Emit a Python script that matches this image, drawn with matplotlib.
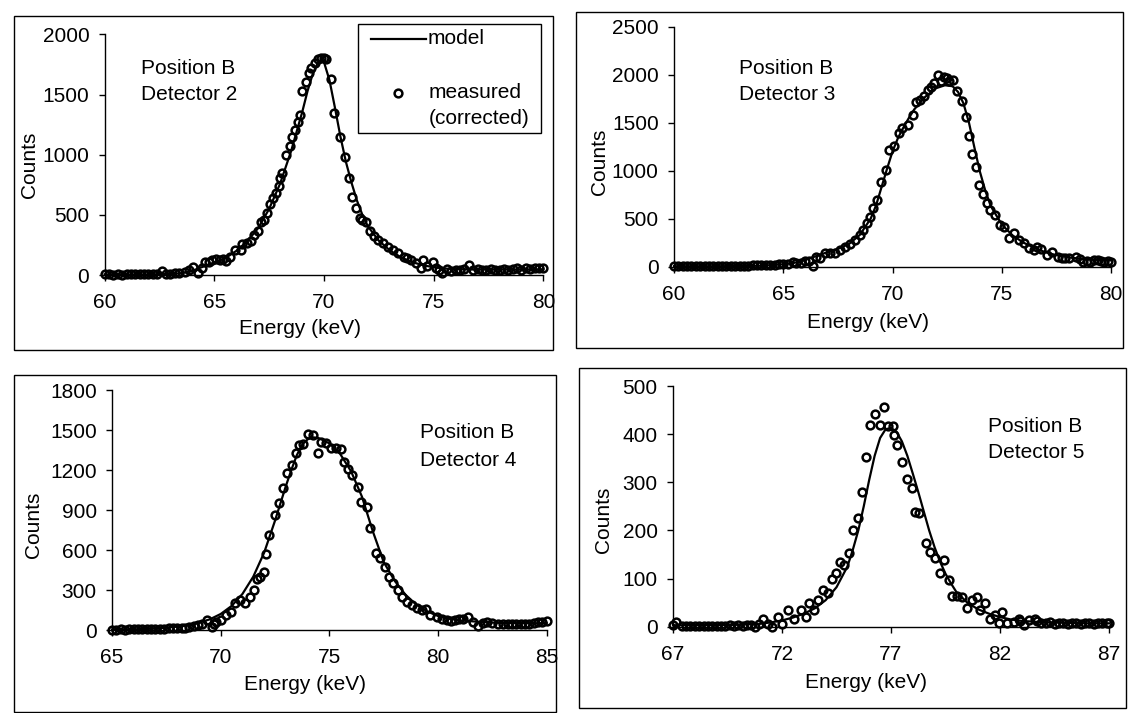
import matplotlib
matplotlib.use("Agg")
import matplotlib.pyplot as plt
from matplotlib.lines import Line2D
from matplotlib.patches import Rectangle

plt.rcParams['font.family'] = ['Liberation Sans', 'DejaVu Sans']

W, H = 1130, 713
FS = 15
MS = 5.6
MEW = 1.8

# ---------------- Data ----------------
# Detector 2
d2_meas_x = [60.0, 60.2, 60.4, 60.6, 60.8, 61.0, 61.2, 61.4, 61.6, 61.8, 62.0, 62.2, 62.4, 62.6, 62.8,
             63.0, 63.2, 63.4, 63.66, 63.85, 64.04, 64.27, 64.42, 64.58, 64.75, 64.88, 65.1, 65.25, 65.4,
             65.55, 65.7, 65.95, 66.2, 66.27, 66.5, 66.68, 66.83, 66.98, 67.15, 67.26, 67.41, 67.53,
             67.68, 67.79, 67.94, 67.98, 68.1, 68.28, 68.44, 68.56, 68.67, 68.82, 68.92, 69.01, 69.17,
             69.32, 69.42, 69.58, 69.73, 69.88, 70.0, 70.1, 70.3, 70.46, 70.72, 70.94, 71.14, 71.28,
             71.47, 71.63, 71.75, 71.93, 72.11, 72.28, 72.46, 72.68, 72.91, 73.14, 73.37, 73.63, 73.8,
             73.98, 74.2, 74.4, 74.5, 74.7, 74.95, 75.1, 75.25, 75.4, 75.6, 75.8, 76.0, 76.2, 76.4, 76.6,
             76.8, 77.0, 77.2, 77.4, 77.6, 77.8, 78.0, 78.2, 78.4, 78.6, 78.8, 79.0, 79.2, 79.4, 79.6,
             79.8, 80.0]
d2_meas_y = [8, 5, 3, 6, 4, 8, 5, 7, 6, 9, 7, 10, 8, 30, 10,
             12, 15, 18, 28, 40, 64, 20, 60, 111, 105, 125, 130, 128, 130,
             120, 147, 208, 208, 258, 269, 283, 333, 369, 444, 457, 513, 588,
             638, 685, 740, 804, 845, 998, 1073, 1145, 1206, 1270, 1330, 1530, 1608,
             1677, 1724, 1766, 1793, 1802, 1805, 1796, 1627, 1344, 1150, 984, 804, 651,
             554, 471, 457, 443, 369, 324, 291, 263, 236, 208, 180, 152, 140,
             125, 97, 61, 123, 75, 112, 61, 40, 20, 47, 35, 40, 45, 50, 80,
             45, 50, 40, 45, 50, 40, 45, 50, 45, 50, 55, 45, 55, 50, 60,
             55, 60]
d2_model_x = [60, 61, 62, 63, 63.5, 64, 64.5, 65, 65.5, 66, 66.5, 67, 67.5, 68, 68.5, 69, 69.25,
              69.5, 69.75, 69.9, 70.0, 70.25, 70.5, 70.75, 71, 71.25, 71.5, 71.75, 72, 72.5, 73,
              73.5, 74, 74.5, 75, 75.5, 76, 77, 78, 79, 80]
d2_model_y = [5, 5, 5, 8, 15, 35, 70, 105, 140, 200, 280, 390, 550, 760, 1030, 1350, 1530,
              1680, 1775, 1790, 1770, 1620, 1390, 1150, 940, 770, 620, 500, 405, 285, 205,
              148, 108, 82, 64, 54, 48, 45, 45, 46, 48]

# Detector 3
d3_meas_x = [60.0, 60.2, 60.4, 60.6, 60.8, 61.0, 61.2, 61.4, 61.6, 61.8, 62.0, 62.2, 62.4, 62.6, 62.8,
             63.0, 63.2, 63.4, 63.6, 63.8, 64.0, 64.2, 64.4, 64.6, 64.8, 65.0, 65.2, 65.44, 65.6, 65.8,
             66.0, 66.2, 66.35, 66.5, 66.68, 66.91, 67.14, 67.37, 67.6, 67.83, 68.05, 68.28, 68.51,
             68.64, 68.82, 68.97, 69.13, 69.3, 69.47, 69.7, 69.85, 70.08, 70.31, 70.43, 70.69, 70.92,
             71.07, 71.25, 71.45, 71.61, 71.76, 71.91, 72.06, 72.2, 72.35, 72.5, 72.6, 72.75, 72.96,
             73.16, 73.37, 73.49, 73.65, 73.8, 73.95, 74.15, 74.33, 74.48, 74.71, 74.94, 75.09, 75.32,
             75.55, 75.78, 76.0, 76.23, 76.46, 76.6, 76.8, 77.07, 77.3, 77.56, 77.75, 77.9, 78.1, 78.4,
             78.6, 78.7, 78.9, 79.05, 79.2, 79.4, 79.55, 79.7, 79.85, 80.0]
d3_meas_y = [3, 5, 4, 6, 5, 4, 6, 5, 7, 6, 8, 7, 9, 8, 10,
             9, 11, 12, 14, 15, 17, 18, 20, 22, 25, 28, 30, 52, 35, 40,
             55, 60, 5, 104, 87, 139, 139, 139, 174, 201, 236, 278, 330,
             382, 451, 521, 608, 694, 878, 1007, 1215, 1257, 1389, 1441, 1476, 1580,
             1719, 1736, 1778, 1840, 1875, 1910, 1996, 1930, 1972, 1962, 1935, 1944, 1833,
             1729, 1562, 1361, 1174, 1042, 851, 760, 660, 590, 538, 434, 417, 295,
             347, 278, 243, 191, 174, 209, 180, 122, 157, 104, 95, 87, 95, 104,
             80, 52, 60, 52, 65, 70, 55, 52, 60, 52]
d3_model_x = [60, 62, 64, 65, 65.5, 66, 66.5, 67, 67.5, 68, 68.5, 69, 69.25, 69.5, 69.75, 70, 70.25,
              70.5, 70.75, 71, 71.5, 72, 72.4, 72.75, 73, 73.25, 73.5, 73.75, 74, 74.25, 74.5, 75,
              75.5, 76, 76.5, 77, 77.5, 78, 78.5, 79, 80]
d3_model_y = [5, 5, 10, 25, 40, 70, 110, 150, 185, 235, 330, 500, 640, 830, 1020, 1200, 1340,
              1450, 1550, 1640, 1770, 1860, 1890, 1880, 1820, 1700, 1500, 1240, 990, 790, 630, 440,
              325, 250, 195, 150, 120, 100, 85, 75, 65]

# Detector 4
d4_meas_x = [65.0, 65.2, 65.4, 65.6, 65.8, 66.0, 66.2, 66.4, 66.6, 66.8, 67.0, 67.2, 67.4, 67.6, 67.8,
             68.0, 68.2, 68.36, 68.55, 68.75, 68.95, 69.15, 69.35, 69.58, 69.7, 69.8, 70.03, 70.26,
             70.49, 70.64, 70.87, 71.1, 71.33, 71.52, 71.67, 71.8, 71.98, 72.1, 72.23, 72.49, 72.69,
             72.87, 73.06, 73.3, 73.48, 73.61, 73.79, 74.02, 74.25, 74.48, 74.63, 74.86, 75.09, 75.32,
             75.52, 75.66, 75.86, 76.06, 76.32, 76.47, 76.73, 76.89, 77.13, 77.32, 77.55, 77.75, 77.93,
             78.16, 78.36, 78.55, 78.78, 79.01, 79.24, 79.44, 79.65, 79.93, 80.2, 80.4, 80.6, 80.8,
             80.95, 81.15, 81.36, 81.6, 81.86, 82.05, 82.27, 82.5, 82.77, 83.0, 83.2, 83.4, 83.6, 83.8,
             84.0, 84.2, 84.4, 84.6, 84.8, 85.0]
d4_meas_y = [3, 2, 4, 3, 5, 4, 6, 5, 7, 6, 8, 9, 10, 12, 14,
             15, 18, 12, 20, 30, 35, 45, 75, 25, 45, 62, 75, 112,
             137, 200, 225, 205, 250, 300, 380, 400, 437, 570, 712, 862, 955,
             1062, 1175, 1237, 1330, 1387, 1395, 1470, 1462, 1325, 1412, 1400, 1367, 1362,
             1357, 1262, 1205, 1162, 1075, 962, 925, 762, 580, 537, 470, 400, 350,
             300, 250, 212, 187, 162, 150, 155, 112, 95, 82, 75, 70, 75,
             82, 80, 95, 57, 32, 50, 57, 50, 45, 48, 45, 45, 42, 45,
             45, 48, 50, 57, 60, 70]
d4_model_x = [65, 66, 67, 68, 68.5, 69, 69.5, 70, 70.5, 71, 71.5, 72, 72.5, 73, 73.25, 73.5, 73.75,
              74, 74.25, 74.5, 75, 75.5, 76, 76.5, 77, 77.5, 78, 78.5, 79, 79.5, 80, 80.5, 81, 82,
              83, 84, 85]
d4_model_y = [3, 5, 10, 25, 35, 55, 80, 120, 180, 270, 400, 580, 820, 1080, 1200, 1310, 1390,
              1430, 1445, 1440, 1400, 1320, 1190, 1000, 740, 510, 370, 265, 190, 140, 105, 85, 72, 60,
              52, 50, 52]

# Detector 5
d5_meas_x = [67.0, 67.16, 67.4, 67.6, 67.8, 68.0, 68.2, 68.4, 68.6, 68.8, 69.0, 69.2, 69.4, 69.6, 69.8,
             70.0, 70.2, 70.4, 70.6, 70.74, 70.95, 71.15, 71.35, 71.55, 71.8, 72.0, 72.27, 72.57, 72.88,
             73.11, 73.26, 73.49, 73.64, 73.87, 74.1, 74.3, 74.49, 74.64, 74.83, 75.07, 75.26, 75.49,
             75.69, 75.84, 76.03, 76.26, 76.49, 76.69, 76.84, 77.07, 77.13, 77.29, 77.52, 77.72, 77.95,
             78.1, 78.3, 78.61, 78.79, 79.02, 79.25, 79.41, 79.64, 79.79, 80.02, 80.25, 80.48, 80.71,
             80.94, 81.09, 81.32, 81.55, 81.78, 81.96, 82.1, 82.32, 82.63, 82.85, 82.94, 83.1, 83.32,
             83.6, 83.7, 83.9, 84.1, 84.3, 84.5, 84.7, 84.9, 85.1, 85.3, 85.5, 85.7, 85.9, 86.1, 86.3,
             86.5, 86.7, 86.9, 87.0]
d5_meas_y = [3, 10, 2, 1, 2, 1, 2, 1, 2, 2, 1, 2, 2, 3, 2,
             3, 2, 3, 4, 0, 5, 15, 5, 0, 21, 5, 35, 17, 35,
             21, 50, 35, 56, 76, 69, 99, 111, 135, 128, 154, 200, 226,
             279, 353, 420, 441, 420, 457, 417, 417, 399, 378, 342, 306, 288,
             238, 236, 174, 156, 142, 112, 139, 97, 64, 64, 62, 38, 56,
             62, 35, 49, 17, 24, 7, 31, 7, 10, 17, 12, 3, 14,
             17, 12, 8, 7, 10, 6, 8, 7, 6, 8, 7, 6, 8, 7, 6,
             8, 7, 8, 7]
d5_model_x = [67, 68, 69, 70, 71, 71.5, 72, 72.5, 73, 73.5, 74, 74.5, 75, 75.25, 75.5, 75.75, 76,
              76.25, 76.5, 76.75, 77, 77.25, 77.5, 77.75, 78, 78.25, 78.5, 78.75, 79, 79.25, 79.5,
              79.75, 80, 80.5, 81, 81.5, 82, 82.5, 83, 84, 85, 86, 87]
d5_model_y = [3, 3, 3, 4, 6, 9, 13, 19, 27, 38, 55, 82, 125, 160, 200, 250, 305,
              355, 392, 410, 413, 405, 385, 355, 318, 280, 240, 200, 165, 135, 110,
              90, 72, 50, 36, 27, 20, 15, 12, 9, 8, 7, 7]

panels = [
    dict(mx=d2_meas_x, my=d2_meas_y, lx=d2_model_x, ly=d2_model_y,
         xlim=(60, 80), xticks=[60, 65, 70, 75, 80], ylim=(0, 2000), yticks=[0, 500, 1000, 1500, 2000],
         ax_px=(104.6, 34.5, 543.4, 275.0), box=(13.5, 15.5, 553, 350),
         txt=(141, 68, 95, "Detector 2"), ylab=(29, 165), xlab=(300, 329)),
    dict(mx=d3_meas_x, my=d3_meas_y, lx=d3_model_x, ly=d3_model_y,
         xlim=(60, 80), xticks=[60, 65, 70, 75, 80], ylim=(0, 2500), yticks=[0, 500, 1000, 1500, 2000, 2500],
         ax_px=(674, 26.7, 1111, 266.7), box=(576, 11.7, 1123, 348),
         txt=(739, 68, 95, "Detector 3"), ylab=(599, 162), xlab=(868, 322)),
    dict(mx=d4_meas_x, my=d4_meas_y, lx=d4_model_x, ly=d4_model_y,
         xlim=(65, 85), xticks=[65, 70, 75, 80, 85], ylim=(0, 1800),
         yticks=[0, 300, 600, 900, 1200, 1500, 1800],
         ax_px=(112, 390, 546.7, 630), box=(13.5, 375, 555.6, 712),
         txt=(420, 432, 460, "Detector 4"), ylab=(34, 525), xlab=(305, 685)),
    dict(mx=d5_meas_x, my=d5_meas_y, lx=d5_model_x, ly=d5_model_y,
         xlim=(67, 87), xticks=[67, 72, 77, 82, 87], ylim=(0, 500), yticks=[0, 100, 200, 300, 400, 500],
         ax_px=(673, 386, 1109, 626.7), box=(579, 368, 1126, 708),
         txt=(988, 427, 453, "Detector 5"), ylab=(603, 520), xlab=(866, 682)),
]

fig = plt.figure(figsize=(W / 100, H / 100), dpi=100)


def fx(x):
    return x / W


def fy(y):
    return 1 - y / H


for p in panels:
    # chart-area border
    bx0, by0, bx1, by1 = p['box']
    fig.add_artist(Rectangle((fx(bx0), fy(by1)), fx(bx1) - fx(bx0), fy(by0) - fy(by1),
                             transform=fig.transFigure, fill=False, edgecolor='black', lw=1.0))
    x0, y0, x1, y1 = p['ax_px']
    ax = fig.add_axes([fx(x0), fy(y1), fx(x1) - fx(x0), fy(y0) - fy(y1)])
    ax.plot(p['lx'], p['ly'], color='black', lw=1.6, zorder=2, clip_on=False)
    ax.plot(p['mx'], p['my'], linestyle='none', marker='o', ms=MS, mfc='none', mec='black',
            mew=MEW, zorder=3, clip_on=False)
    ax.set_xlim(*p['xlim'])
    ax.set_ylim(*p['ylim'])
    ax.set_xticks(p['xticks'])
    ax.set_yticks(p['yticks'])
    ax.spines['top'].set_visible(False)
    ax.spines['right'].set_visible(False)
    ax.spines['left'].set_linewidth(1.0)
    ax.spines['bottom'].set_linewidth(1.0)
    ax.tick_params(axis='x', direction='out', length=4, width=1, pad=9, labelsize=FS)
    ax.tick_params(axis='y', direction='out', length=4, width=1, pad=7, labelsize=FS)
    ax.set_facecolor('none')
    tx, ty1, ty2, det = p['txt']
    fig.text(fx(tx), fy(ty1), "Position B", fontsize=FS, ha='left', va='center')
    fig.text(fx(tx), fy(ty2), det, fontsize=FS, ha='left', va='center')
    fig.text(fx(p['ylab'][0]), fy(p['ylab'][1]), "Counts", fontsize=FS, rotation=90,
             ha='center', va='center')
    fig.text(fx(p['xlab'][0]), fy(p['xlab'][1]), "Energy (keV)", fontsize=FS,
             ha='center', va='center')

# Legend of the first panel
fig.add_artist(Rectangle((fx(358), fy(133)), fx(541) - fx(358), fy(24) - fy(133),
                         transform=fig.transFigure, fill=True, facecolor='white',
                         edgecolor='black', lw=1.0, zorder=5))
fig.add_artist(Line2D([fx(371), fx(426)], [fy(39), fy(39)], transform=fig.transFigure,
                      color='black', lw=1.6, zorder=6))
fig.text(fx(428), fy(39), "model", fontsize=FS, ha='left', va='center', zorder=6)
fig.add_artist(Line2D([fx(398)], [fy(93)], transform=fig.transFigure, linestyle='none',
                      marker='o', ms=MS, mfc='none', mec='black', mew=MEW, zorder=6))
fig.text(fx(429), fy(93), "measured", fontsize=FS, ha='left', va='center', zorder=6)
fig.text(fx(429), fy(119), "(corrected)", fontsize=FS, ha='left', va='center', zorder=6)

fig.savefig("out.png", dpi=100)
